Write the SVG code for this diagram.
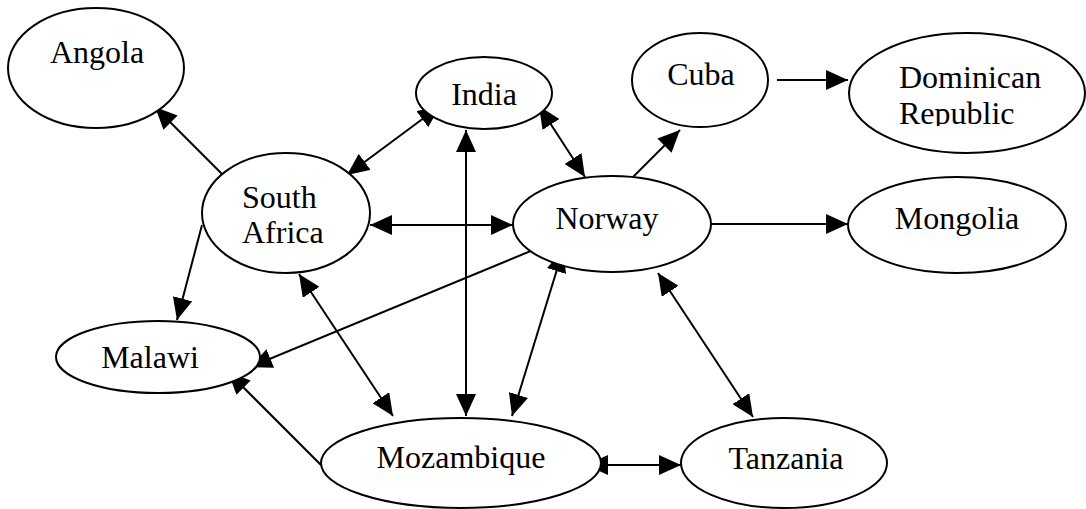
<svg xmlns="http://www.w3.org/2000/svg" width="1086" height="509" viewBox="0 0 1086 509">
<style>
.node ellipse{fill:#fff;stroke:#000;stroke-width:2}
text{font-family:"Liberation Serif","Times New Roman",serif;font-size:32px;fill:#000}
.edges line{stroke:#000;stroke-width:2}
.one{marker-end:url(#ah)}
.two{marker-start:url(#ah);marker-end:url(#ah)}
</style>
<defs>
<marker id="ah" markerUnits="userSpaceOnUse" markerWidth="22" markerHeight="20" refX="22" refY="10" orient="auto-start-reverse" viewBox="0 0 22 20">
<path d="M0,0 L22,10 L0,20 z" fill="#000"/>
</marker>
<clipPath id="domclip"><rect x="840" y="0" width="246" height="126"/></clipPath>
</defs>
<rect width="1086" height="509" fill="#fff"/>
<g class="edges">
<line class="one" x1="224" y1="176" x2="155" y2="107"/>
<line class="two" x1="347" y1="175" x2="440" y2="106"/>
<line class="two" x1="466" y1="130" x2="466" y2="416"/>
<line class="two" x1="539" y1="106" x2="585" y2="177"/>
<line class="one" x1="633" y1="177" x2="680" y2="130"/>
<line class="one" x1="777" y1="80" x2="848" y2="80"/>
<line class="two" x1="370" y1="225" x2="513" y2="225"/>
<line class="one" x1="710" y1="224" x2="848" y2="224"/>
<line class="one" x1="202" y1="225" x2="177" y2="320"/>
<line class="one" x1="538" y1="248" x2="250" y2="367"/>
<line class="one" x1="321" y1="465" x2="228" y2="372"/>
<line class="two" x1="299" y1="274" x2="393" y2="416"/>
<line class="two" x1="563" y1="250" x2="512" y2="416"/>
<line class="two" x1="658" y1="273" x2="753" y2="417"/>
<line class="two" x1="586" y1="465" x2="681" y2="465"/>
</g>
<g id="angola" class="node"><ellipse cx="96" cy="68" rx="88" ry="60"/><text x="97" y="63" text-anchor="middle">Angola</text></g>
<g id="india" class="node"><ellipse cx="484" cy="93" rx="68" ry="36"/><text x="484" y="105" text-anchor="middle">India</text></g>
<g id="cuba" class="node"><ellipse cx="700" cy="80" rx="68" ry="47"/><text x="701" y="85" text-anchor="middle">Cuba</text></g>
<g id="dominican" class="node"><ellipse cx="967" cy="93" rx="118" ry="60"/><g clip-path="url(#domclip)"><text x="899" y="88">Dominican</text><text x="899" y="124">Republic</text></g></g>
<g id="southafrica" class="node"><ellipse cx="286" cy="213" rx="84" ry="60"/><text x="242" y="208">South</text><text x="242" y="243">Africa</text></g>
<g id="norway" class="node"><ellipse cx="612" cy="224" rx="99" ry="48"/><text x="607" y="229" text-anchor="middle">Norway</text></g>
<g id="mongolia" class="node"><ellipse cx="957" cy="225" rx="109" ry="48"/><text x="957" y="229" text-anchor="middle">Mongolia</text></g>
<g id="malawi" class="node"><ellipse cx="158" cy="357" rx="102" ry="36"/><text x="150" y="368" text-anchor="middle">Malawi</text></g>
<g id="mozambique" class="node"><ellipse cx="461" cy="463" rx="140" ry="45"/><text x="461" y="468" text-anchor="middle">Mozambique</text></g>
<g id="tanzania" class="node"><ellipse cx="784" cy="463" rx="103" ry="45"/><text x="786" y="469" text-anchor="middle">Tanzania</text></g>
</svg>
